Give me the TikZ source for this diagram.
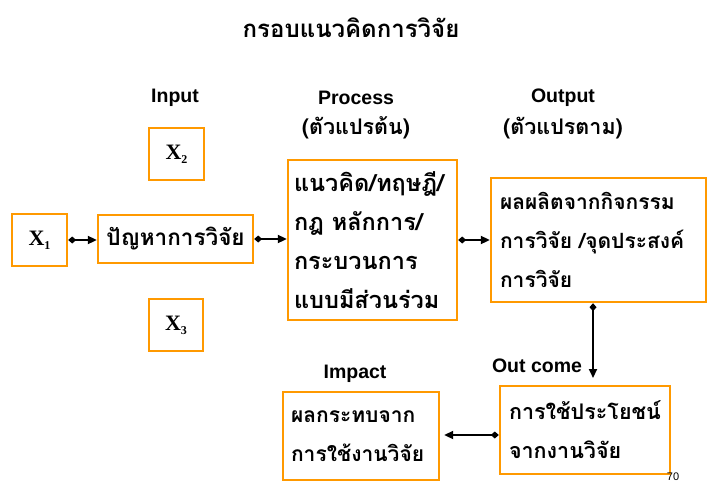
\documentclass[tikz,border=0pt]{standalone}
\usepackage{fontspec}
\setmainfont{Liberation Serif}
\setsansfont{Liberation Sans}
\newfontfamily\thaifont[Script=Thai]{Loma}
\usetikzlibrary{arrows.meta,calc}
\definecolor{boxorange}{RGB}{255,153,0}
\newcommand{\xsub}[1]{X\raisebox{-4pt}{\fontsize{12}{12}\selectfont #1}}
\newcommand{\thsize}[1]{\thaifont\bfseries\fontsize{#1}{39}\selectfont}
\begin{document}
\begin{tikzpicture}[x=1pt,y=-1pt,
  bx/.style={draw=boxorange,line width=2.4pt,inner sep=0pt,fill=white},
  lbl/.style={font=\sffamily\bfseries\fontsize{19.5}{24}\selectfont,inner sep=0pt},
  xv/.style={font=\bfseries\fontsize{22}{24}\selectfont},
  conn/.style={line width=2pt,{Diamond[length=8pt,width=7pt]}-{Triangle[length=9pt,width=8pt]}}]
\useasboundingbox (0,0) rectangle (708,484);
\node[font=\thsize{24}] (title) at (351,28) {กรอบแนวคิดการวิจัย};
\node[lbl] (lin) at (175,98) {Input};
\node[lbl] (lproc) at (356,98) {Process};
\node[lbl,font=\thaifont\bfseries\fontsize{21.5}{24}\selectfont] (lproc2) at (356,128) {(ตัวแปรต้น)};
\node[lbl] (lout) at (563,98) {Output};
\node[lbl,font=\thaifont\bfseries\fontsize{21.5}{24}\selectfont] (lout2) at (563,128) {(ตัวแปรตาม)};
\node[lbl] (limp) at (355,374) {Impact};
\node[lbl] (lcome) at (537,366) {Out come};
\node[bx,xv,minimum width=55pt,minimum height=52pt] (x2) at (176.5,154) {\xsub{2}};
\node[bx,xv,minimum width=55pt,minimum height=52pt] (x1) at (39.5,240) {\xsub{1}};
\node[bx,xv,minimum width=54pt,minimum height=52pt] (x3) at (176,325) {\xsub{3}};
\node[bx,font=\thsize{22.5},minimum width=155pt,minimum height=48pt] (prob) at (175.5,239) {ปัญหาการวิจัย};
\node[bx,font=\thsize{23.5},minimum width=169pt,minimum height=160pt,text width=157pt,align=left] (proc) at (372.5,240) {แนวคิด/ทฤษฎี/\\กฎ หลักการ/\\กระบวนการ\\แบบมีส่วนร่วม};
\node[bx,font=\thsize{21},minimum width=215pt,minimum height=124pt,text width=197pt,align=left] (out) at (598.5,240) {ผลผลิตจากกิจกรรม\\การวิจัย\ /จุดประสงค์\\การวิจัย};
\node[bx,font=\thsize{21.5},minimum width=170pt,minimum height=88pt,text width=152pt,align=left] (come) at (585,430) {การใช้ประโยชน์\\จากงานวิจัย};
\node[bx,font=\thsize{21},minimum width=156pt,minimum height=88pt,text width=140pt,align=left] (imp) at (361,436) {ผลกระทบจาก\\การใช้งานวิจัย};
\node[font=\sffamily\fontsize{11}{12}\selectfont,inner sep=1pt] (pg) at (673,477) {70};
\draw[conn] (x1.east) -- (prob.west |- x1.east);
\draw[conn] (prob.east) -- (proc.west |- prob.east);
\draw[conn] (proc.east) -- (out.west |- proc.east);
\coordinate (oe) at (593,378);
\draw[conn] (out.south -| oe) -- (oe);
\coordinate (ie) at ($(imp.east)+(4,-1)$);
\draw[conn] (come.west |- ie) -- (ie);
\end{tikzpicture}
\end{document}
